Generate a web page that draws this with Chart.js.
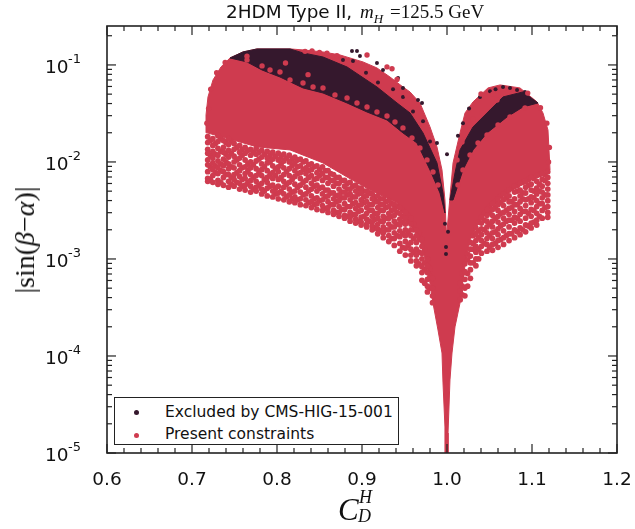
<!DOCTYPE html>
<html>
<head>
<meta charset="utf-8">
<script src="https://cdn.jsdelivr.net/npm/chart.js@4"></script>
<style>
html,body{margin:0;padding:0;background:#fff}
#wrap{position:relative;width:635px;height:529px;overflow:hidden;font-family:"DejaVu Sans",sans-serif;color:#111}
canvas{position:absolute;left:0;top:0}
.t{position:absolute;white-space:nowrap}
.m{font-family:"Liberation Serif",serif}
#title{left:226px;top:0px;font-size:18.4px;line-height:24px}
#title i,#ylab i,#xlab i{font-family:"Liberation Serif",serif}
#title i{font-size:19px;margin-left:2px}
#title sub{font-size:13px;line-height:0;font-style:italic;font-family:"Liberation Serif",serif}
#title .m{font-size:19px;margin-left:1px}
#ylab{left:25px;top:240px;font-size:28px;transform:translate(-50%,-50%) rotate(-90deg);font-family:"Liberation Serif",serif}
#xlab{left:338px;top:490px;width:40px;height:38px;font-family:"Liberation Serif",serif}
#xlab .c{position:absolute;left:0;top:2px;font-size:31px;font-style:italic}
#xlab .h{position:absolute;left:21px;top:-3px;font-size:18px;font-style:italic}
#xlab .d{position:absolute;left:20px;top:16px;font-size:18px;font-style:italic}
#legend{left:114px;top:397px;width:283px;height:46px;border:1.5px solid #222;background:#fff;font-size:15.5px}
#legend .row{position:absolute;left:50px}
#legend .dot{position:absolute;left:19px;width:5px;height:5px;border-radius:50%}
</style>
</head>
<body>
<div id="wrap">
<canvas id="c" width="635" height="529"></canvas>
<div class="t" id="title">2HDM Type II, <i>m<sub>H</sub></i> <span class="m">=125.5 GeV</span></div>
<div class="t" id="ylab">|sin(<i>β</i>−<i>α</i>)|</div>
<div class="t" id="xlab"><span class="c">C</span><span class="h">H</span><span class="d">D</span></div>
<div class="t" id="legend">
  <span class="dot" style="top:12px;background:#35182d"></span><span class="row" style="top:5px">Excluded by CMS-HIG-15-001</span>
  <span class="dot" style="top:35px;background:#cf3b4f"></span><span class="row" style="top:27px">Present constraints</span>
</div>
</div>
<script>
const xTicks=[0.6,0.7,0.8,0.9,1.0,1.1,1.2];
const xMinor=[0.62,0.64,0.66,0.68,0.72,0.74,0.76,0.78,0.82,0.84,0.86,0.88,0.92,0.94,0.96,0.98,1.02,1.04,1.06,1.08,1.12,1.14,1.16,1.18];
const yTicks=[1e-5,1e-4,1e-3,1e-2,1e-1];
const yExponents=['-5','-4','-3','-2','-1'];
const yMinorFactors=[2,3,4,5,6,7,8,9];
const yMax=0.252;
const seriesExcluded='Excluded by CMS-HIG-15-001';
const seriesPresent='Present constraints';
const colorExcluded='#35182d';
const colorPresent='#cf3b4f';

// outline of the solid part of the red cloud: [C, log10|sin|]
const redSolidOutline=[[.7176,-1.70],[.7165,-1.515],[.7188,-1.33],[.7247,-1.155],[.7341,-1.02],[.7447,-.928],[.76,-.866],[.7765,-.835],[.8153,-.835],[.8306,-.845],[.8541,-.866],[.8741,-.897],[.9012,-.969],[.9176,-1.031],[.9329,-1.124],[.9482,-1.227],[.9565,-1.278],[.9682,-1.392],[.98,-1.639],[.9882,-1.845],[.9941,-2.082],[.9976,-2.392],[.9994,-2.773],[1.0035,-2.361],[1.0071,-2.01],[1.0153,-1.701],[1.0212,-1.495],[1.0306,-1.381],[1.0482,-1.237],[1.0624,-1.206],[1.0859,-1.237],[1.1059,-1.381],[1.1129,-1.495],[1.1188,-1.67],[1.1212,-2.082],[1.0894,-2.186],[1.0624,-2.361],[1.0388,-2.598],[1.0271,-2.804],[1.0212,-3.062],[1.0153,-3.454],[1.0094,-3.70],[1.0059,-3.969],[1.0035,-4.247],[1.0012,-4.794],[1.0012,-5],[.9976,-5],[.9976,-4.732],[.9953,-4.278],[.9941,-3.969],[.9894,-3.732],[.9835,-3.454],[.9776,-3.113],[.9682,-2.804],[.9412,-2.423],[.9094,-2.289],[.8824,-2.155],[.8541,-2.01],[.8153,-1.876],[.7765,-1.845],[.7482,-1.773]];
const darkLeftOutline=[[.7447,-.928],[.76,-.866],[.7765,-.835],[.8153,-.835],[.8306,-.876],[.8541,-.918],[.8824,-1.021],[.9176,-1.227],[.9412,-1.392],[.9565,-1.495],[.9718,-1.701],[.9882,-2.01],[.9953,-2.32],[.9976,-2.526],[.9918,-2.32],[.98,-2.082],[.9647,-1.804],[.9482,-1.701],[.9294,-1.567],[.9059,-1.485],[.8824,-1.392],[.8541,-1.289],[.8306,-1.237],[.8035,-1.124],[.7824,-1.052],[.7647,-.969]];
const darkRightOutline=[[1.0035,-2.392],[1.0094,-2.113],[1.0153,-1.876],[1.0306,-1.639],[1.0506,-1.464],[1.0659,-1.33],[1.0894,-1.278],[1.1071,-1.392],[1.0894,-1.433],[1.0706,-1.536],[1.0471,-1.701],[1.0306,-1.876],[1.0188,-2.082],[1.0071,-2.392]];

// dark dots read along the outer edges
const darkDots=[[.8882,-.856],[.8941,-.856],[.8976,-.907],[.9176,-.979],[.9247,-1.052],[.9424,-1.134],[.9482,-1.237],[.9659,-1.361],[.9706,-1.392],[.9882,-1.804],[.8776,-.95],[.8894,-.96],[.9047,-1.08],[.9188,-1.18],[.9365,-1.25],[.9482,-1.33],[.96,-1.48],[.9718,-1.58],[.98,-1.79],[1.0659,-1.227],[1.0741,-1.237],[1.0824,-1.258],[1.0918,-1.278],[1.0259,-1.45],[1.0188,-1.60],[1.0129,-1.73],[1.0388,-1.33],[1.0506,-1.27],[1.0571,-1.25],[1.0,-1.92],[.9988,-2.876],[.9988,-2.948],[.9976,-2.638],[1.0012,-2.72]];
// red dots read along the edges of the dark band and the outer rim
const redEdgeDots=[[.7647,-.948],[.7824,-1.01],[.7918,-1.052],[.8035,-1.072],[.8153,-1.155],[.8306,-1.186],[.8424,-1.227],[.8541,-1.237],[.8682,-1.309],[.8824,-1.34],[.8941,-1.392],[.9059,-1.433],[.9176,-1.485],[.9294,-1.526],[.9388,-1.588],[.9482,-1.649],[.9588,-1.753],[.9682,-1.856],[.9765,-1.979],[.9835,-2.103],[.9894,-2.237],[.81,-.98],[.7647,-.91],[.8365,-1.10],[.833,-.86],[.8412,-.855],[.85,-.87],[.8588,-.88],[.8706,-.905],[.9059,-.897],[.9294,-1.02],[.9353,-1.04],[.9412,-1.15],[.9529,-1.31],[1.0918,-1.443],[1.0741,-1.536],[1.06,-1.619],[1.0471,-1.722],[1.0365,-1.804],[1.0271,-1.928],[1.0188,-2.082],[1.0129,-2.237],[1.0588,-1.361],[1.0412,-1.495],[1.0271,-1.619],[1.0176,-1.794],[1.0118,-1.979],[1.0306,-1.56],[1.0541,-1.30],[.7195,-1.45],[.7175,-1.6],[.722,-1.25],[.729,-1.08],[.739,-.975],[1.1175,-1.6],[1.1205,-1.85],[1.1195,-2.0],[1.11,-1.44],[1.095,-1.29],[1.04,-1.3]];
// speckled lower edge of the red cloud, column by column: [C, [log10|sin| ...]]
const redSpeckleColumns=[
[.7185,[-1.74,-1.80,-1.87,-1.91,-1.98,-2.03,-2.10,-2.17,-2.20]],
[.7245,[-1.76,-1.83,-1.89,-1.96,-2.01,-2.08,-2.14,-2.21]],
[.7305,[-1.73,-1.79,-1.86,-1.93,-1.99,-2.06,-2.12,-2.19,-2.23]],
[.737,[-1.78,-1.85,-1.90,-1.97,-2.04,-2.10,-2.16,-2.24]],
[.743,[-1.76,-1.82,-1.88,-1.95,-2.02,-2.07,-2.13,-2.20,-2.26]],
[.7495,[-1.81,-1.87,-1.94,-2.00,-2.06,-2.13,-2.18,-2.25]],
[.756,[-1.83,-1.90,-1.96,-2.03,-2.09,-2.15,-2.22,-2.28]],
[.7625,[-1.85,-1.91,-1.98,-2.05,-2.12,-2.17,-2.24,-2.29]],
[.769,[-1.87,-1.93,-2.00,-2.06,-2.13,-2.19,-2.25,-2.31]],
[.7755,[-1.86,-1.92,-1.99,-2.07,-2.14,-2.20,-2.26,-2.30]],
[.782,[-1.88,-1.95,-2.02,-2.08,-2.14,-2.22,-2.28,-2.33]],
[.7885,[-1.89,-1.96,-2.01,-2.09,-2.16,-2.21,-2.27,-2.35]],
[.795,[-1.90,-1.97,-2.04,-2.11,-2.17,-2.24,-2.30,-2.36]],
[.8015,[-1.91,-1.98,-2.05,-2.10,-2.18,-2.25,-2.32,-2.38]],
[.808,[-1.92,-1.99,-2.06,-2.13,-2.20,-2.26,-2.33,-2.39]],
[.8145,[-1.93,-2.00,-2.07,-2.14,-2.21,-2.28,-2.34,-2.41]],
[.821,[-1.95,-2.01,-2.09,-2.15,-2.23,-2.30,-2.36,-2.42]],
[.8275,[-1.97,-2.04,-2.11,-2.17,-2.24,-2.31,-2.38,-2.44]],
[.834,[-1.99,-2.06,-2.12,-2.19,-2.26,-2.33,-2.39,-2.45]],
[.8405,[-2.02,-2.08,-2.14,-2.22,-2.28,-2.35,-2.41,-2.47]],
[.847,[-2.04,-2.11,-2.17,-2.24,-2.30,-2.37,-2.43,-2.49]],
[.8535,[-2.05,-2.12,-2.19,-2.26,-2.33,-2.39,-2.45,-2.50]],
[.86,[-2.09,-2.16,-2.22,-2.29,-2.35,-2.41,-2.47,-2.52]],
[.8665,[-2.13,-2.19,-2.25,-2.32,-2.38,-2.44,-2.50,-2.54]],
[.873,[-2.16,-2.22,-2.28,-2.34,-2.40,-2.46,-2.52,-2.56]],
[.8795,[-2.19,-2.25,-2.31,-2.37,-2.43,-2.49,-2.55,-2.58]],
[.886,[-2.21,-2.28,-2.33,-2.39,-2.46,-2.52,-2.57,-2.61]],
[.8925,[-2.24,-2.30,-2.36,-2.42,-2.48,-2.54,-2.59,-2.63]],
[.899,[-2.27,-2.32,-2.39,-2.44,-2.50,-2.57,-2.62,-2.65]],
[.9055,[-2.30,-2.35,-2.41,-2.47,-2.53,-2.59,-2.64,-2.67]],
[.912,[-2.33,-2.38,-2.44,-2.50,-2.56,-2.62,-2.66,-2.70]],
[.9185,[-2.35,-2.41,-2.47,-2.53,-2.58,-2.64,-2.69,-2.74]],
[.925,[-2.38,-2.44,-2.50,-2.56,-2.61,-2.67,-2.73,-2.78]],
[.9315,[-2.40,-2.46,-2.53,-2.58,-2.64,-2.70,-2.76,-2.82]],
[.938,[-2.44,-2.49,-2.55,-2.61,-2.67,-2.73,-2.79,-2.86]],
[.9445,[-2.47,-2.53,-2.59,-2.65,-2.71,-2.77,-2.84,-2.92]],
[.951,[-2.52,-2.58,-2.64,-2.70,-2.76,-2.82,-2.89,-2.96]],
[.9575,[-2.58,-2.64,-2.70,-2.76,-2.83,-2.90,-2.96,-3.02]],
[.964,[-2.70,-2.76,-2.83,-2.90,-2.96,-3.02,-3.07]],
[.9705,[-2.80,-2.87,-2.94,-3.00,-3.08,-3.14,-3.22]],
[.977,[-3.00,-3.07,-3.14,-3.21,-3.28,-3.34]],
[.983,[-3.20,-3.30,-3.38,-3.45]],
[1.1185,[-2.10,-2.16,-2.22,-2.28,-2.34,-2.40,-2.46,-2.52,-2.57]],
[1.112,[-2.12,-2.18,-2.25,-2.31,-2.37,-2.43,-2.50,-2.58]],
[1.1055,[-2.14,-2.20,-2.27,-2.33,-2.40,-2.46,-2.53,-2.60,-2.65]],
[1.099,[-2.16,-2.23,-2.29,-2.36,-2.42,-2.49,-2.56,-2.63,-2.68]],
[1.0925,[-2.20,-2.26,-2.32,-2.39,-2.45,-2.51,-2.58,-2.65,-2.72]],
[1.086,[-2.22,-2.29,-2.35,-2.41,-2.48,-2.54,-2.61,-2.68,-2.75]],
[1.0795,[-2.25,-2.31,-2.38,-2.44,-2.51,-2.57,-2.63,-2.70,-2.78]],
[1.073,[-2.29,-2.35,-2.41,-2.48,-2.54,-2.60,-2.67,-2.74,-2.81]],
[1.0665,[-2.33,-2.39,-2.45,-2.52,-2.58,-2.64,-2.71,-2.78,-2.85]],
[1.06,[-2.38,-2.44,-2.50,-2.56,-2.62,-2.69,-2.75,-2.81,-2.88]],
[1.0535,[-2.43,-2.49,-2.55,-2.61,-2.67,-2.73,-2.79,-2.85,-2.91]],
[1.047,[-2.49,-2.55,-2.61,-2.67,-2.73,-2.79,-2.85,-2.92]],
[1.0405,[-2.57,-2.63,-2.69,-2.75,-2.81,-2.87,-2.94]],
[1.034,[-2.68,-2.74,-2.81,-2.87,-2.93,-3.00,-3.07]],
[1.0275,[-2.83,-2.90,-2.97,-3.04,-3.11,-3.20]],
[1.021,[-3.05,-3.13,-3.21,-3.30,-3.38]],
[1.0155,[-3.25,-3.33,-3.42]]
];
// further dots that close most of the gaps between those columns
const redInfillColumns=[
[.7215,[-1.78,-1.93,-2.05,-2.18]],[.7275,[-1.81,-1.92,-2.04,-2.11]],[.7338,[-1.76,-1.89,-2.02,-2.09,-2.21]],[.74,[-1.80,-1.92,-2.0,-2.13]],
[.7462,[-1.79,-1.91,-2.05,-2.16,-2.23]],[.7528,[-1.85,-1.98,-2.11,-2.21]],[.759,[-1.87,-1.93,-2.06,-2.18,-2.25]],[.7658,[-1.88,-2.02,-2.09,-2.21]],
[.7722,[-1.9,-2.03,-2.16,-2.28]],[.7788,[-1.9,-1.97,-2.11,-2.24]],[.7852,[-1.92,-2.05,-2.18,-2.3]],[.7918,[-1.93,-2.0,-2.13,-2.25]],
[.7982,[-1.94,-2.07,-2.14,-2.27,-2.33]],[.8048,[-1.95,-2.02,-2.16,-2.3]],[.8112,[-1.96,-2.1,-2.23,-2.36]],[.8178,[-1.97,-2.04,-2.18,-2.31,-2.38]],
[.8242,[-1.98,-2.05,-2.12,-2.26,-2.39]],[.8308,[-2.0,-2.08,-2.21,-2.34]],[.8372,[-2.03,-2.09,-2.16,-2.3,-2.42]],[.8438,[-2.05,-2.18,-2.25,-2.38,-2.44]],
[.85,[-2.08,-2.14,-2.27,-2.4]],[.8568,[-2.09,-2.16,-2.29,-2.36,-2.48]],[.8632,[-2.12,-2.19,-2.32,-2.44]],[.8698,[-2.16,-2.22,-2.35,-2.41,-2.52]],
[.8762,[-2.19,-2.31,-2.37,-2.49]],[.8828,[-2.22,-2.28,-2.34,-2.46,-2.56]],[.8892,[-2.25,-2.36,-2.43,-2.54]],[.8958,[-2.27,-2.33,-2.45,-2.51,-2.61]],
[.9022,[-2.3,-2.36,-2.42,-2.56]],[.9088,[-2.32,-2.44,-2.5,-2.61]],[.9152,[-2.36,-2.41,-2.53,-2.59,-2.68]],[.9218,[-2.38,-2.44,-2.5,-2.61,-2.71]],
[.9282,[-2.41,-2.47,-2.58,-2.7]],[.9348,[-2.43,-2.5,-2.56,-2.67,-2.79]],[.9412,[-2.46,-2.52,-2.64,-2.76]],[.9478,[-2.5,-2.56,-2.62,-2.74,-2.88]],
[.9542,[-2.55,-2.61,-2.73,-2.86]],[.9608,[-2.64,-2.7,-2.79,-2.93]],[.9672,[-2.73,-2.8,-2.93,-3.05]],[.9738,[-2.9,-3.04,-3.11,-3.25]],[.98,[-3.1,-3.18,-3.3]],
[1.1152,[-2.13,-2.19,-2.34,-2.47]],[1.1088,[-2.13,-2.23,-2.3,-2.43,-2.56]],[1.1022,[-2.17,-2.3,-2.37,-2.5,-2.62]],[1.0958,[-2.18,-2.24,-2.38,-2.53,-2.66]],
[1.0892,[-2.21,-2.32,-2.38,-2.51,-2.7]],[1.0828,[-2.24,-2.3,-2.44,-2.58,-2.72]],[1.0762,[-2.27,-2.41,-2.47,-2.6,-2.74]],[1.0698,[-2.31,-2.37,-2.5,-2.61,-2.76]],
[1.0632,[-2.35,-2.42,-2.53,-2.66,-2.8]],[1.0568,[-2.41,-2.47,-2.58,-2.72,-2.84]],[1.0502,[-2.46,-2.52,-2.64,-2.76,-2.88]],[1.0438,[-2.53,-2.6,-2.7,-2.84]],
[1.0372,[-2.62,-2.71,-2.78,-2.9,-3.0]],[1.0308,[-2.76,-2.84,-2.9,-3.04]],[1.0242,[-2.95,-3.01,-3.15,-3.28]],[1.018,[-3.15,-3.28,-3.37]]
];

const pts=a=>a.map(p=>({x:p[0],y:Math.pow(10,p[1])}));
const closed=a=>pts(a.concat([a[0]]));
const unroll=cols=>cols.flatMap(c=>c[1].map(v=>[c[0],v]));

const shape=(label,a,color,order)=>({label,data:closed(a),type:'line',showLine:true,fill:'shape',backgroundColor:color,borderColor:color,borderWidth:1,pointRadius:0,tension:0,order});
const dots=(label,a,color,r,order)=>({label,data:pts(a),type:'scatter',showLine:false,backgroundColor:color,borderWidth:0,pointRadius:r,pointHoverRadius:r,order});

const framePlugin={id:'frame',afterDraw(ch){
  const {ctx,chartArea:a,scales:{x,y}}=ch;
  const ink='#222';
  ctx.save();ctx.strokeStyle=ink;
  const hl=(x1,y1,x2,y2)=>{ctx.beginPath();ctx.moveTo(x1,y1);ctx.lineTo(x2,y2);ctx.stroke();};
  ctx.lineWidth=1.2;
  xTicks.forEach(v=>{const p=x.getPixelForValue(v);hl(p,a.top,p,a.top+9);hl(p,a.bottom,p,a.bottom-9);});
  xMinor.forEach(v=>{const p=x.getPixelForValue(v);hl(p,a.top,p,a.top+5);hl(p,a.bottom,p,a.bottom-5);});
  yTicks.forEach((v,i)=>{const p=y.getPixelForValue(v);hl(a.left,p,a.left+9,p);hl(a.right,p,a.right-9,p);
    yMinorFactors.forEach(f=>{const w=v*f;if(w>yMax)return;const q=y.getPixelForValue(w);hl(a.left,q,a.left+5,q);hl(a.right,q,a.right-5,q);});
    ctx.fillStyle='#111';ctx.textBaseline='middle';ctx.textAlign='left';
    ctx.font='18.5px "DejaVu Sans"';ctx.fillText('10',45,p+3.5);
    ctx.font='13px "DejaVu Sans"';ctx.fillText(yExponents[i],68,p-5);
  });
  ctx.lineWidth=1.6;ctx.strokeRect(a.left,a.top,a.right-a.left,a.bottom-a.top);
  ctx.restore();
}};

new Chart(document.getElementById('c'),{
  type:'scatter',
  data:{datasets:[
    dots(seriesPresent,unroll(redSpeckleColumns),colorPresent,2.9,2),
    dots(seriesPresent,unroll(redInfillColumns),colorPresent,2.9,2),
    dots(seriesPresent,redEdgeDots,colorPresent,2.7,1),
    dots(seriesExcluded,darkDots,colorExcluded,2,3),
    shape(seriesExcluded,darkLeftOutline,colorExcluded,4),
    shape(seriesExcluded,darkRightOutline,colorExcluded,5),
    shape(seriesPresent,redSolidOutline,colorPresent,6)
  ]},
  options:{
    responsive:false,animation:false,
    layout:{padding:{top:26,right:18,left:0,bottom:0}},
    plugins:{legend:{display:false},title:{display:false},tooltip:{enabled:false}},
    scales:{
      x:{type:'linear',min:0.6,max:1.2,grid:{display:false,drawTicks:false},border:{display:false},
         afterBuildTicks:s=>{s.ticks=xTicks.map(v=>({value:v}));},
         afterFit:s=>{s.height=76;s.paddingLeft=0;s.paddingRight=0;},
         ticks:{padding:16,color:'#111',font:{family:'DejaVu Sans',size:18.5},maxRotation:0,autoSkip:false,callback:v=>v.toFixed(1)}},
      y:{type:'logarithmic',min:1e-5,max:yMax,grid:{display:false,drawTicks:false},border:{display:false},
         afterBuildTicks:s=>{s.ticks=yTicks.map(v=>({value:v}));},
         afterFit:s=>{s.width=107;s.paddingTop=0;s.paddingBottom=0;},
         ticks:{display:false}}
    }
  },
  plugins:[framePlugin]
});
</script>
</body>
</html>
